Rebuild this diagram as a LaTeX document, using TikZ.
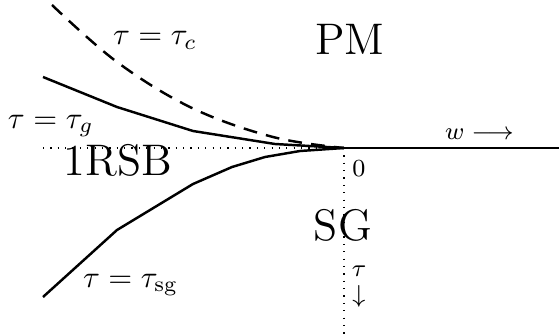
\documentclass[tikz,border=0pt]{standalone}
\usepackage{amsmath,amssymb}
\usepackage{tikz}
\usetikzlibrary{positioning,calc}

\begin{document}
\begin{tikzpicture}[
  x=0.01145cm, y=-0.01145cm,
  every node/.style={inner sep=0pt, outer sep=0pt},
  phase/.style={font=\Large, anchor=base},
  curvelabel/.style={anchor=base west},
  axislabel/.style={font=\footnotesize},
  boundary/.style={thick, line join=round},
  axis/.style={thick},
  guide/.style={dotted}
]
\useasboundingbox (0,0) rectangle (559,335);

% ORIGIN AND AXES
\coordinate (O)     at (344,148);
\coordinate (wend)  at (559,148);
\coordinate (tend)  at (344,335);
\coordinate (gleft) at (43,148);

\draw[axis]  (O) -- (wend);
\draw[guide] (O) -- (tend);
\draw[guide] (gleft) -- (O);

% TRANSITION LINES
\coordinate (cstart)  at (52,5);
\coordinate (gstart)  at (43,77);
\coordinate (sgstart) at (43,297);

\draw[boundary, dash pattern=on 4.5pt off 3pt]
  plot[smooth, tension=0.6] coordinates {(cstart) (117,62) (192,108) (273,137) (O)};
\draw[boundary] (gstart) -- (117,107) -- (193,131) -- (275,144) -- (O);
\draw[boundary] (sgstart) -- (117,230) -- (193,184) -- (232,167) -- (265,157) -- (300,151) -- (O);

% LABELS
\node (tc)  [curvelabel] at (113,45)  {$\tau=\tau_c$};
\node (tg)  [curvelabel] at (8,128)   {$\tau=\tau_g$};
\node (tsg) [curvelabel] at (83,287)  {$\tau=\tau_{\mathrm{sg}}$};

\node (pm)   [phase] at (350,55)  {PM};
\node (rsb)  [phase] at (118,175) {1RSB};
\node (sg)   [phase] at (343,240) {SG};

\node (zero) [axislabel, anchor=base] at (359,176) {$0$};
\node (waxis) [axislabel, anchor=base west] at (445,139) {$w\longrightarrow$};
\node (taxis) [axislabel, align=center, anchor=north] at (359,266) {$\tau$\\[-1pt]$\downarrow$};
\end{tikzpicture}
\end{document}
